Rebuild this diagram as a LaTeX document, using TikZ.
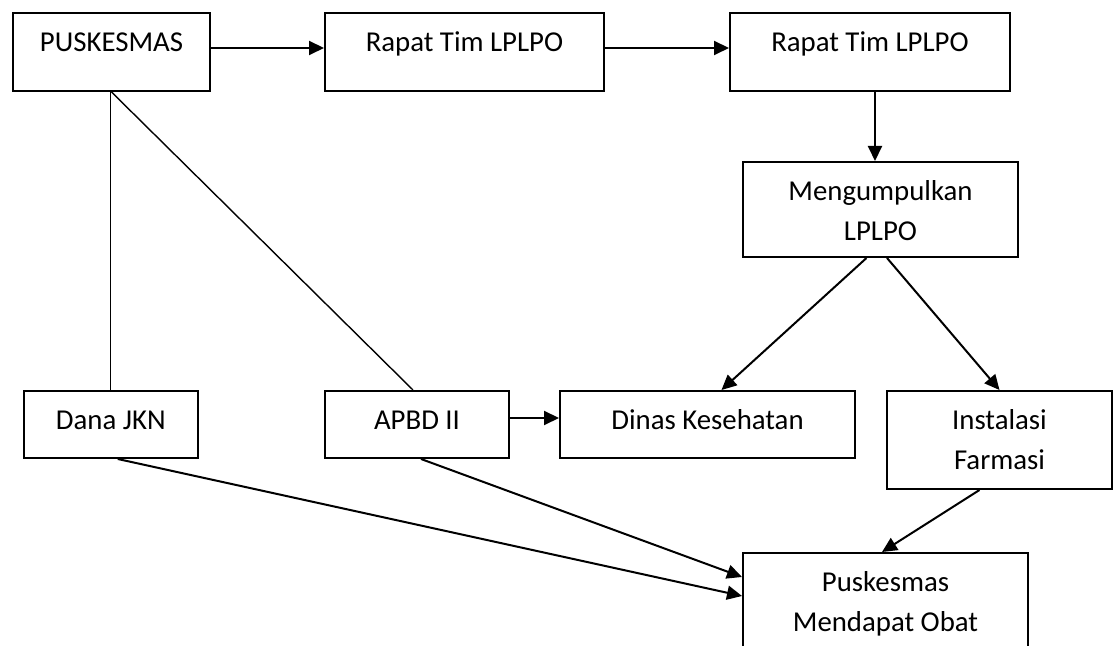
\documentclass[tikz,border=0pt]{standalone}
\usepackage{fontspec}
\setmainfont{Carlito}
\usepackage{tikz}
\usetikzlibrary{arrows.meta}
\newcommand{\twolines}[2]{\begin{tabular}[t]{@{}c@{}}#1\\#2\end{tabular}}

\begin{document}
\begin{tikzpicture}[x=0.5pt, y=-0.5pt, font=\fontsize{14.4}{20}\selectfont,
box/.style={draw, line width=1pt, inner sep=0pt, text height=19.5pt, text depth=19.5pt},
flow/.style={line width=1pt, -{Triangle[length=7.5pt, width=7pt]}},
link/.style={line width=0.7pt}]
\path[use as bounding box, clip] (0,0) rectangle (1120,646);
\node[box, minimum width=98.5pt] (pusk) at (111.5,52) {PUSKESMAS};
\node[box, minimum width=139.5pt] (rapatA) at (464.5,52) {Rapat Tim LPLPO};
\node[box, minimum width=140pt] (rapatB) at (870,52) {Rapat Tim LPLPO};
\node[box, minimum width=137.5pt, text depth=28pt] (kumpul) at (880.5,209.5) {\twolines{Mengumpulkan}{LPLPO}};
\node[box, minimum width=86.75pt, text depth=14pt] (dana) at (110.75,424.5) {Dana JKN};
\node[box, minimum width=92pt, text depth=14pt] (apbd) at (417,424.5) {APBD II};
\node[box, minimum width=147.5pt, text depth=14pt] (dinas) at (707.5,424.5) {Dinas Kesehatan};
\node[box, minimum width=112.5pt, text depth=29.5pt] (farmasi) at (999.5,440) {\twolines{Instalasi}{Farmasi}};
\node[box, minimum width=142.5pt, text depth=32pt] (obat) at (885.5,604.5) {\twolines{Puskesmas}{Mendapat Obat}};

\draw[flow] ([yshift=2pt]pusk.east) -- ([yshift=2pt]rapatA.west);
\draw[flow] ([yshift=2pt]rapatA.east) -- ([yshift=2pt]rapatB.west);
\draw[flow] ([xshift=2.5pt]rapatB.south) -- ([xshift=2.5pt]rapatB.south |- kumpul.north);
\draw[link] (dana.north |- pusk.south) -- (dana.north);
\draw[link] (pusk.south) -- ([xshift=-2pt]apbd.north);
\draw[flow] ([yshift=3.25pt]apbd.east) -- ([yshift=3.25pt]dinas.west);
\draw[flow] ([xshift=-7pt]kumpul.south) -- ([xshift=7pt]dinas.north);
\draw[flow] ([xshift=3.25pt]kumpul.south) -- (farmasi.north);
\draw[flow] ([xshift=-10pt]farmasi.south) -- ([xshift=-1.75pt]obat.north);
\draw[flow] ([xshift=3.5pt]dana.south) -- ([yshift=4.25pt]obat.west);
\draw[flow] ([xshift=2pt]apbd.south) -- ([yshift=13.75pt]obat.west);
\end{tikzpicture}
\end{document}
